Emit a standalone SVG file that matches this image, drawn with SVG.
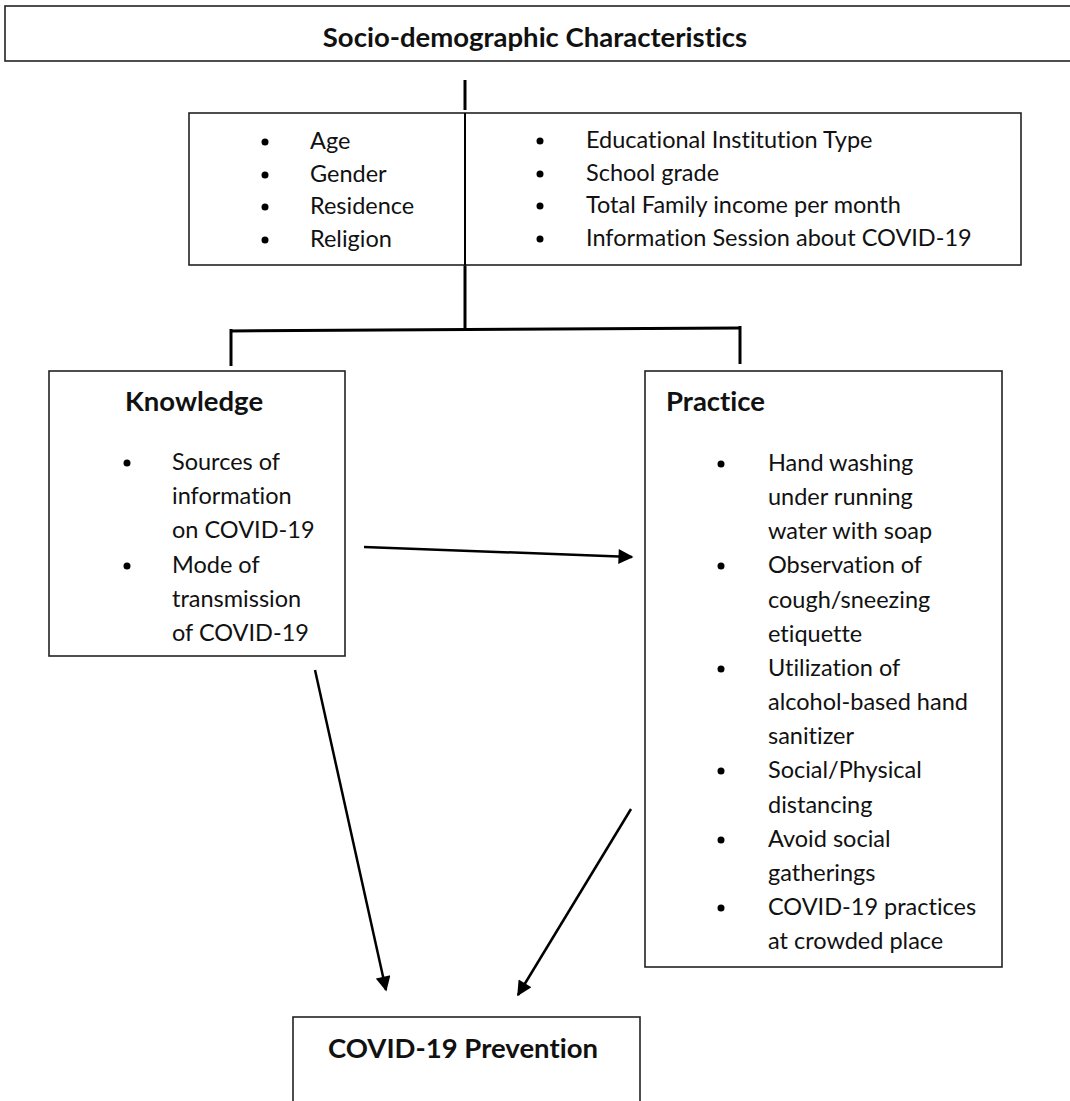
<svg xmlns="http://www.w3.org/2000/svg" width="1070" height="1101" viewBox="0 0 1070 1101">
<defs>
<style>
.box{fill:#fff;stroke:#222;stroke-width:1.6}
.t{font-family:Lato,"Liberation Sans",sans-serif;font-size:23.5px;fill:#111;font-variant-ligatures:none}
.b{font-family:Lato,"Liberation Sans",sans-serif;font-size:27.5px;font-weight:bold;fill:#111;font-variant-ligatures:none}
.ln{stroke:#000;stroke-width:3;fill:none}
.ar{stroke:#000;stroke-width:2.5;fill:none;marker-end:url(#ah)}
.dot{fill:#000}
</style>
<marker id="ah" viewBox="0 0 10 10" refX="9" refY="5" markerWidth="7" markerHeight="6" markerUnits="strokeWidth" orient="auto">
<path d="M0,0 L10,5 L0,10 z" fill="#000"/>
</marker>
</defs>
<rect width="1070" height="1101" fill="#fff"/>

<g id="connectors">
<line class="ln" x1="465" y1="80" x2="465" y2="110"/>
<line class="ln" x1="465" y1="265" x2="465" y2="330"/>
<line class="ln" x1="230" y1="331" x2="740" y2="328"/>
<line class="ln" x1="231" y1="329" x2="231" y2="366"/>
<line class="ln" x1="740" y1="326" x2="740" y2="364"/>
<line class="ar" x1="364" y1="547" x2="632" y2="557"/>
<line class="ar" x1="315" y1="670" x2="386" y2="990"/>
<line class="ar" x1="631" y1="809" x2="518" y2="995"/>
</g>

<g id="socio">
<rect class="box" x="5" y="6" width="1080" height="55"/>
<text class="b" x="535" y="47" text-anchor="middle">Socio-demographic Characteristics</text>
</g>

<g id="characteristics">
<rect class="box" x="189" y="113" width="832" height="152"/>
<line stroke="#000" stroke-width="2" x1="465" y1="113" x2="465" y2="265"/>
<circle class="dot" cx="265" cy="142" r="3.5"/>
<circle class="dot" cx="265" cy="175" r="3.5"/>
<circle class="dot" cx="265" cy="207" r="3.5"/>
<circle class="dot" cx="265" cy="240" r="3.5"/>
<text class="t" x="310" y="149">Age</text>
<text class="t" x="310" y="182">Gender</text>
<text class="t" x="310" y="214">Residence</text>
<text class="t" x="310" y="247">Religion</text>
<circle class="dot" cx="540" cy="141" r="3.5"/>
<circle class="dot" cx="540" cy="174" r="3.5"/>
<circle class="dot" cx="540" cy="206" r="3.5"/>
<circle class="dot" cx="540" cy="239" r="3.5"/>
<text class="t" x="586" y="148">Educational Institution Type</text>
<text class="t" x="586" y="181">School grade</text>
<text class="t" x="586" y="213">Total Family income per month</text>
<text class="t" x="586" y="246">Information Session about COVID-19</text>
</g>

<g id="knowledge">
<rect class="box" x="49" y="371" width="296" height="285"/>
<text class="b" x="125" y="411">Knowledge</text>
<circle class="dot" cx="127" cy="463" r="3.5"/>
<circle class="dot" cx="127" cy="566" r="3.5"/>
<text class="t" x="172" y="470">Sources of</text>
<text class="t" x="172" y="504">information</text>
<text class="t" x="172" y="538">on COVID-19</text>
<text class="t" x="172" y="573">Mode of</text>
<text class="t" x="172" y="607">transmission</text>
<text class="t" x="172" y="641">of COVID-19</text>
</g>

<g id="practice">
<rect class="box" x="645" y="371" width="357" height="596"/>
<text class="b" x="666" y="411">Practice</text>
<circle class="dot" cx="721" cy="464" r="3.5"/>
<circle class="dot" cx="721" cy="566" r="3.5"/>
<circle class="dot" cx="721" cy="669" r="3.5"/>
<circle class="dot" cx="721" cy="771" r="3.5"/>
<circle class="dot" cx="721" cy="840" r="3.5"/>
<circle class="dot" cx="721" cy="908" r="3.5"/>
<text class="t" x="768" y="471">Hand washing</text>
<text class="t" x="768" y="505">under running</text>
<text class="t" x="768" y="539">water with soap</text>
<text class="t" x="768" y="573">Observation of</text>
<text class="t" x="768" y="608">cough/sneezing</text>
<text class="t" x="768" y="642">etiquette</text>
<text class="t" x="768" y="676">Utilization of</text>
<text class="t" x="768" y="710">alcohol-based hand</text>
<text class="t" x="768" y="744">sanitizer</text>
<text class="t" x="768" y="778">Social/Physical</text>
<text class="t" x="768" y="813">distancing</text>
<text class="t" x="768" y="847">Avoid social</text>
<text class="t" x="768" y="881">gatherings</text>
<text class="t" x="768" y="915">COVID-19 practices</text>
<text class="t" x="768" y="949">at crowded place</text>
</g>

<g id="prevention">
<rect class="box" x="293" y="1017" width="347" height="100"/>
<text class="b" x="328" y="1058">COVID-19 Prevention</text>
</g>
</svg>
